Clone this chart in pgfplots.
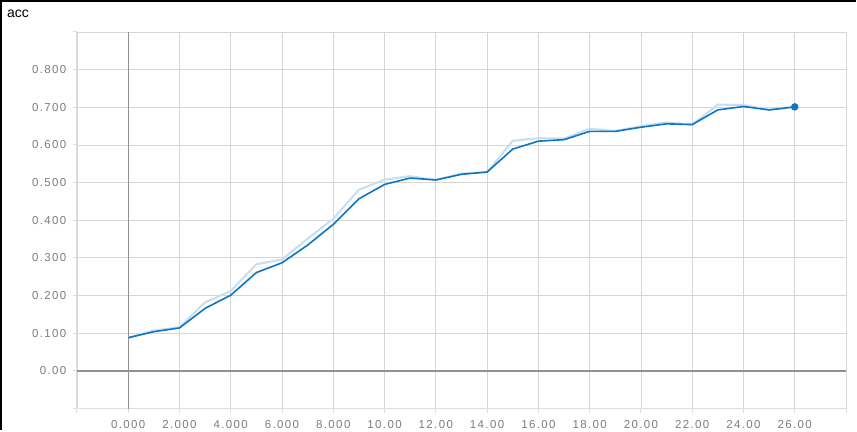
\documentclass[border=0pt]{standalone}
\usepackage{pgfplots}
\pgfplotsset{compat=1.18}
\usepackage{fontspec}
\setmainfont{Liberation Sans}
\newfontfamily\tickfont[LetterSpace=12]{Liberation Sans}
\definecolor{darkline}{RGB}{14,118,191}
\definecolor{lightline}{RGB}{198,222,240}
\definecolor{gridc}{RGB}{214,214,214}
\definecolor{axisc}{RGB}{222,222,222}
\definecolor{zeroc}{RGB}{145,145,145}
\definecolor{tickc}{RGB}{125,125,125}
\begin{document}
\begin{tikzpicture}[x=1pt,y=1pt]
\path[fill=white] (0,0) rectangle (857,431);
\draw[black, line width=2pt] (1,0) -- (1,430) -- (857,430);
\node[anchor=base west, inner sep=0pt, font=\fontsize{14}{14}\selectfont] at (7,413) {acc};
\begin{axis}[
  at={(77pt,22pt)}, anchor=south west,
  scale only axis, width=770pt, height=377pt,
  xmin=-2, xmax=28, ymin=-0.1, ymax=0.9,
  xtick={-2,0,2,4,6,8,10,12,14,16,18,20,22,24,26,28},
  xticklabels={,0.000,2.000,4.000,6.000,8.000,10.00,12.00,14.00,16.00,18.00,20.00,22.00,24.00,26.00,},
  ytick={-0.1,0,0.1,0.2,0.3,0.4,0.5,0.6,0.7,0.8,0.9},
  yticklabels={,0.00,0.100,0.200,0.300,0.400,0.500,0.600,0.700,0.800,},
  grid=major,
  major grid style={gridc, line width=0.8pt},
  axis line style={axisc, line width=1pt},
  axis x line*=bottom, axis y line*=left,
  tick align=outside, major tick length=4pt,
  tick style={axisc, line width=1pt},
  tick label style={tickc, font=\tickfont\fontsize{11.5}{11.5}\selectfont},
  /pgf/number format/assume math mode=true,
  yticklabel style={xshift=-3pt},
  xticklabel style={yshift=-4pt},
  clip=false,
]
\draw[gridc, line width=0.8pt] (axis cs:28,-0.1) -- (axis cs:28,0.9);
\draw[gridc, line width=0.8pt] (axis cs:-2,0.9) -- (axis cs:28,0.9);
\draw[zeroc, line width=1.3pt] (axis cs:0,-0.1) -- (axis cs:0,0.9);
\draw[zeroc, line width=1.3pt] (axis cs:-2,0) -- (axis cs:28,0);
\addplot[lightline, line width=2pt, no marks] coordinates {
(0,0.088) (1,0.107) (2,0.116) (3,0.182) (4,0.212) (5,0.283) (6,0.296) (7,0.351)
(8,0.404) (9,0.481) (10,0.508) (11,0.517) (12,0.507) (13,0.524) (14,0.528)
(15,0.611) (16,0.618) (17,0.617) (18,0.643) (19,0.637) (20,0.650) (21,0.660)
(22,0.654) (23,0.707) (24,0.706) (25,0.693) (26,0.701)};
\addplot[darkline, line width=1.6pt, no marks] coordinates {
(0,0.088) (1,0.104) (2,0.114) (3,0.166) (4,0.201) (5,0.261) (6,0.287) (7,0.334)
(8,0.389) (9,0.457) (10,0.495) (11,0.512) (12,0.507) (13,0.522) (14,0.528)
(15,0.589) (16,0.610) (17,0.614) (18,0.636) (19,0.636) (20,0.647) (21,0.656)
(22,0.654) (23,0.693) (24,0.702) (25,0.693) (26,0.701)};
\addplot[darkline, only marks, mark=*, mark size=3.5pt, mark options={fill=darkline, draw=darkline}] coordinates {(26,0.701)};
\end{axis}
\end{tikzpicture}
\end{document}
